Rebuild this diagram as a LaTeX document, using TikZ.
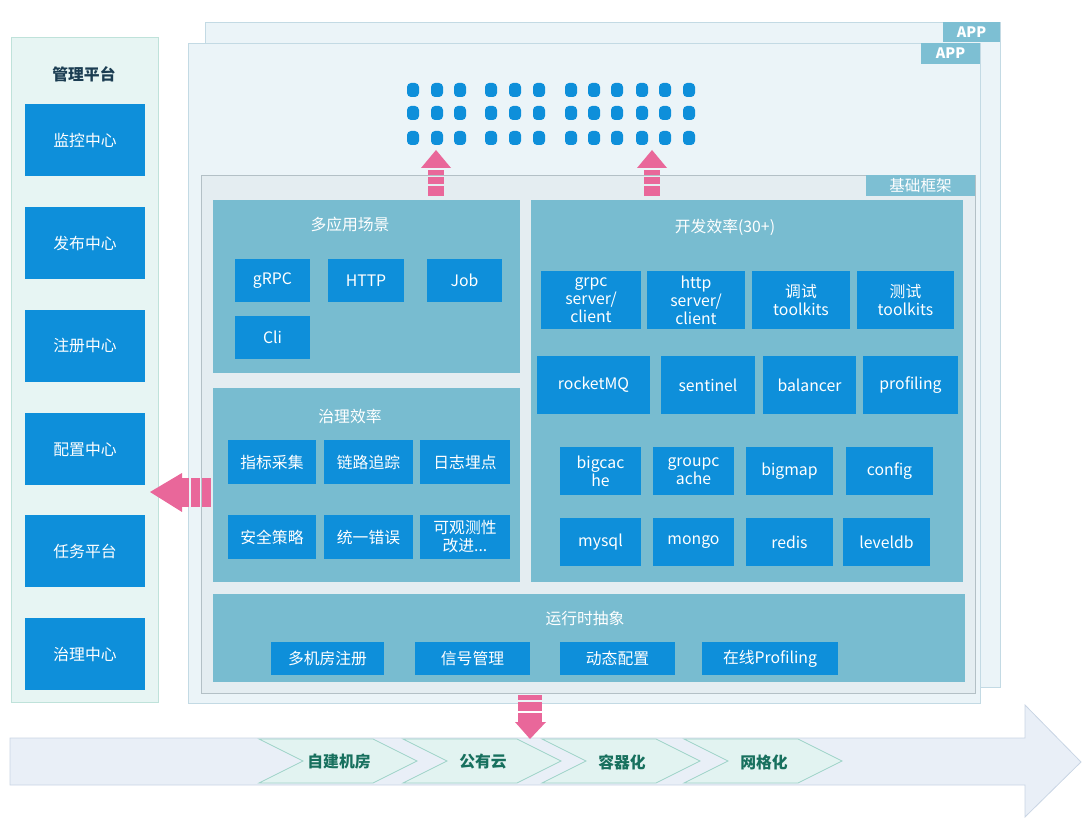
\documentclass[tikz,border=0pt]{standalone}
\usepackage{fontspec}
\setmainfont{Noto Sans CJK SC}
\usepackage{xcolor}
\usetikzlibrary{positioning}
\definecolor{appBg}{HTML}{EBF4F8}
\definecolor{appLine}{HTML}{C3DAE4}
\definecolor{tabTeal}{HTML}{7DBFD3}
\definecolor{baseBg}{HTML}{E4EDF1}
\definecolor{baseLine}{HTML}{B3C0C6}
\definecolor{panelTeal}{HTML}{78BCD0}
\definecolor{boxBlue}{HTML}{0E8FDA}
\definecolor{arrowPink}{HTML}{E9679A}
\definecolor{mgmtBg}{HTML}{E7F5F3}
\definecolor{mgmtLine}{HTML}{BFE2DA}
\definecolor{titleDark}{HTML}{1B3D52}
\definecolor{chevBg}{HTML}{E2F3F1}
\definecolor{chevLine}{HTML}{9ED3C8}
\definecolor{chevText}{HTML}{17705E}
\definecolor{roadBg}{HTML}{E9EFF7}
\definecolor{roadLine}{HTML}{C9D5E4}
\tikzset{
  txt/.style={font=\fontsize{7.9}{9}\selectfont},
  blkbox/.style={txt, fill=boxBlue, text=white, align=center, inner sep=0pt},
  panelbox/.style={fill=panelTeal, draw=none, inner sep=0pt},
  tabbox/.style={fill=tabTeal, text=white, inner sep=0pt, font=\fontsize{7.2}{8}\selectfont\bfseries},
  paneltitle/.style={txt, text=white},
  chev/.style={fill=chevBg, draw=chevLine, line width=0.4pt},
  pinkbar/.style={fill=arrowPink, draw=none}
}
% box from its corners in pixel units
\newcommand{\blk}[7][blkbox]{\node[#1, minimum width={(#5-#3)*0.5pt}, minimum height={(#6-#4)*0.5pt}] (#2) at ({(#3+#5)/2},{(#4+#6)/2}) {#7};}

\begin{document}
\begin{tikzpicture}[x=0.5pt, y=-0.5pt]
    \useasboundingbox (0,0) rectangle (1084,824);

    % app layers
    \draw[fill=appBg, draw=appLine] (205,22) rectangle (1000,687);
    \blk[tabbox]{apptabback}{943}{22}{1000}{42}{APP}
    \draw[fill=appBg, draw=appLine] (188,43) rectangle (980,703);
    \blk[tabbox]{apptab}{921}{43}{980}{64}{APP}

    % applications
    \foreach \x in {413,437,460,491,515,539,571,594,617,642,665,689}
      \foreach \y in {90,113,138}
        \fill[boxBlue, rounded corners=2pt] (\x-6,\y-7) rectangle (\x+6,\y+7);

    % base framework
    \draw[fill=baseBg, draw=baseLine] (201,175) rectangle (975,693);
    \blk[tabbox]{basetab}{866}{175}{975}{196}{\fontsize{7.8}{9}\selectfont\mdseries 基础框架}

    \blk[panelbox]{scene}{213}{200}{520}{373}{}
    \node[paneltitle] (sceneT) at (350,224) {多应用场景};
    \blk{grpc}{235}{259}{310}{302}{gRPC}
    \blk{http}{328}{259}{404}{302}{HTTP}
    \blk{job}{427}{259}{502}{302}{Job}
    \blk{cli}{235}{316}{310}{359}{Cli}

    \blk[panelbox]{govern}{213}{388}{520}{582}{}
    \node[paneltitle] (governT) at (350,416) {治理效率};
    \blk{metric}{228}{440}{316}{484}{指标采集}
    \blk{trace}{324}{440}{413}{484}{链路追踪}
    \blk{logging}{420}{440}{510}{484}{日志埋点}
    \blk{security}{228}{515}{316}{559}{安全策略}
    \blk{errors}{324}{515}{413}{559}{统一错误}
    \blk{observe}{420}{515}{510}{559}{可观测性\\改进...}

    \blk[panelbox]{devel}{531}{200}{963}{582}{}
    \node[paneltitle] (develT) at (725,227) {开发效率(30+)};
    \blk{grpcsc}{541}{271}{641}{329}{grpc\\server/\\client}
    \blk{httpsc}{647}{271}{745}{329}{http\\server/\\client}
    \blk{debugkit}{752}{271}{850}{329}{调试\\toolkits}
    \blk{testkit}{857}{271}{954}{329}{测试\\toolkits}
    \blk{rocketmq}{537}{356}{650}{414}{rocketMQ}
    \blk{sentinel}{661}{356}{755}{414}{sentinel}
    \blk{balancer}{763}{356}{856}{414}{balancer}
    \blk{profiling}{863}{356}{958}{414}{profiling}
    \blk{bigcache}{560}{447}{641}{495}{bigcac\\he}
    \blk{groupcache}{653}{447}{734}{495}{groupc\\ache}
    \blk{bigmap}{746}{447}{833}{495}{bigmap}
    \blk{config}{846}{447}{933}{495}{config}
    \blk{mysql}{560}{518}{641}{566}{mysql}
    \blk{mongo}{653}{518}{734}{566}{mongo}
    \blk{redis}{746}{518}{833}{566}{redis}
    \blk{leveldb}{843}{518}{930}{566}{leveldb}

    \blk[panelbox]{runtime}{213}{594}{965}{682}{}
    \node[paneltitle] (runtimeT) at (585,618) {运行时抽象};
    \blk{multidc}{271}{642}{384}{675}{多机房注册}
    \blk{signal}{415}{642}{530}{675}{信号管理}
    \blk{dynconf}{560}{642}{675}{675}{动态配置}
    \blk{onlineprof}{702}{642}{838}{675}{在线Profiling}

    % up arrows
    \foreach \x in {436,652} {
      \fill[arrowPink] (\x-15,168) -- (\x,150) -- (\x+15,168) -- cycle;
      \fill[arrowPink] (\x-8,170) rectangle (\x+8,175);
      \fill[arrowPink] (\x-8,177) rectangle (\x+8,184);
      \fill[arrowPink] (\x-8,186) rectangle (\x+8,196);
    }

    % management platform
    \draw[fill=mgmtBg, draw=mgmtLine] (11,37) rectangle (158,702);
    \node[txt, text=titleDark, font=\fontsize{7.9}{9}\selectfont\bfseries] (mgmtT) at (84,74) {管理平台};
    \blk{monitor}{25}{104}{145}{176}{监控中心}
    \blk{release}{25}{207}{145}{279}{发布中心}
    \blk{registry}{25}{310}{145}{382}{注册中心}
    \blk{confcenter}{25}{413}{145}{485}{配置中心}
    \blk{tasks}{25}{515}{145}{587}{任务平台}
    \blk{governcenter}{25}{618}{145}{690}{治理中心}

    % left arrow
    \fill[arrowPink] (182,473) -- (150,492) -- (182,512) -- cycle;
    \fill[arrowPink] (182,478) rectangle (189,507);
    \fill[arrowPink] (191,478) rectangle (200,507);
    \fill[arrowPink] (202,478) rectangle (211,507);

    % road
    \draw[fill=roadBg, draw=roadLine] (10,738) -- (1025,738) -- (1025,705) -- (1081,762)
      -- (1025,817) -- (1025,785) -- (10,785) -- cycle;
    \foreach \x/\lbl/\nm in {259/自建机房/onprem,403/公有云/cloud,542/容器化/container,684/网格化/mesh} {
      \draw[chev] (\x,739) -- (\x+114,739) -- (\x+158,761) -- (\x+114,783) -- (\x,783) -- (\x+44,761) -- cycle;
      \node[txt, text=chevText, font=\fontsize{7.9}{9}\selectfont\bfseries] (\nm) at (\x+80,762) {\lbl};
    }

    % down arrow
    \fill[arrowPink] (518,695) rectangle (542,700);
    \fill[arrowPink] (518,702) rectangle (542,711);
    \fill[arrowPink] (518,713) rectangle (542,722);
    \fill[arrowPink] (515,722) -- (546,722) -- (530,739) -- cycle;
\end{tikzpicture}
\end{document}
